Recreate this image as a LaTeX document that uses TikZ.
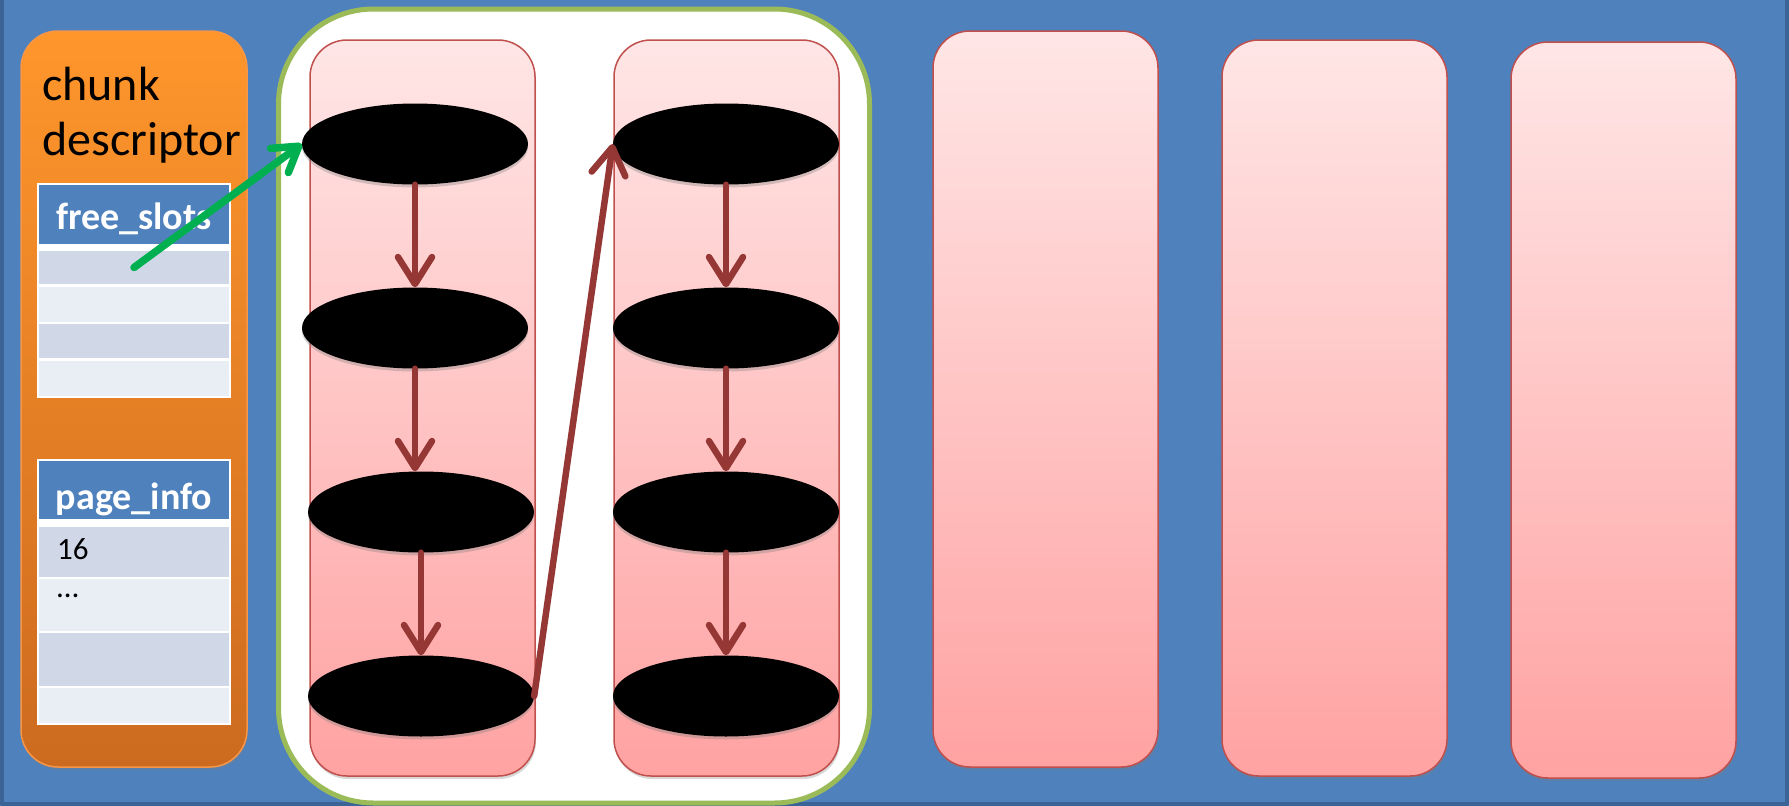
\documentclass[tikz,border=0pt]{standalone}
\usepackage{fontspec}
\setmainfont{Carlito}
\usetikzlibrary{arrows.meta,shapes.geometric,shadows}
\definecolor{bgblue}{HTML}{4F81BD}
\definecolor{bgedge}{HTML}{3A6496}
\definecolor{rowdark}{HTML}{D0D8E8}
\definecolor{rowlight}{HTML}{E9EDF4}
\definecolor{orgtop}{HTML}{FF962C}
\definecolor{orgbot}{HTML}{CC6A1F}
\definecolor{orgedge}{HTML}{F79646}
\definecolor{pinktop}{HTML}{FFE6E6}
\definecolor{pinkbot}{HTML}{FFA2A2}
\definecolor{pinkedge}{HTML}{C0504D}
\definecolor{poolgreen}{HTML}{9BBB59}
\definecolor{linkred}{HTML}{953735}
\definecolor{ptrgreen}{HTML}{00B050}

\begin{document}
\begin{tikzpicture}[x=1pt,y=-1pt, line join=round, line cap=round,
    pagebox/.style={rounded corners=37pt, draw=pinkedge, line width=1.5pt, top color=pinktop, bottom color=pinkbot,
      minimum width=225pt, minimum height=736pt, inner sep=0pt, drop shadow={shadow xshift=1pt,shadow yshift=-3pt,opacity=.3}},
    blob/.style={ellipse, fill=black, minimum width=226pt, minimum height=81pt, inner sep=0pt,
      drop shadow={shadow xshift=0pt,shadow yshift=-3pt,opacity=.35}},
    cell/.style={inner sep=0pt, minimum width=190pt},
    hd/.style={cell, fill=bgblue},
    rowa/.style={cell, fill=rowdark},
    rowb/.style={cell, fill=rowlight},
    tabframe/.style={fill=white, inner sep=0pt, minimum width=194pt},
    hdtext/.style={anchor=base, inner sep=0pt, text=white, font=\fontsize{38}{42}\selectfont\bfseries},
    celltext/.style={anchor=base west, inner sep=0pt, font=\fontsize{31}{35}\selectfont},
    link/.style={draw=linkred, line width=6.5pt, -{Straight Barb[length=27pt,width=34pt,round]}},
    ptr/.style={draw=ptrgreen, line width=7.5pt, -{Straight Barb[length=24pt,width=30pt,round]}}]
        \useasboundingbox (0,0) rectangle (1789,806);
        \fill[bgblue] (0,0) rectangle (1789,806);
        \draw[bgedge, line width=4pt] (2,0) -- (2,804) -- (1787,804) -- (1787,0);

        \node[rounded corners=37pt, draw=orgedge, line width=1.5pt, top color=orgtop, bottom color=orgbot,
          minimum width=226pt, minimum height=736pt, inner sep=0pt,
          drop shadow={shadow xshift=1pt,shadow yshift=-3pt,opacity=.3}] (chunk) at (134,399) {};
        \node[anchor=north west, align=left, inner sep=0pt, font=\fontsize{48}{55}\selectfont] (desc) at (42,67) {chunk\\descriptor};

        \node[tabframe, minimum height=215pt] (fsbox) at (134,290.5) {};
        \node[hd, minimum height=59pt] (fs0) at (134,214.5) {};
        \node[rowa, minimum height=33pt] (fs1) at (134,267.5) {};
        \node[rowb, minimum height=35pt] (fs2) at (134,304.5) {};
        \node[rowa, minimum height=34pt] (fs3) at (134,341) {};
        \node[rowb, minimum height=35pt] (fs4) at (134,378.5) {};
        \node[hdtext] (fstitle) at (134,229) {free\_slots};

        \node[tabframe, minimum height=266pt] (pibox) at (134,592) {};
        \node[hd, minimum height=58pt] (pi0) at (134,490) {};
        \node[rowa, minimum height=50pt] (pi1) at (134,552) {};
        \node[rowb, minimum height=52pt] (pi2) at (134,605) {};
        \node[rowa, minimum height=53pt] (pi3) at (134,659.5) {};
        \node[rowb, minimum height=35pt] (pi4) at (134,705.5) {};
        \node[hdtext] (pititle) at (134,509) {page\_info};
        \node[celltext] (pages) at (57,559) {16};
        \node[celltext] (more) at (57,597) {…};

        \node[rounded corners=95pt, draw=poolgreen, line width=5pt, fill=white,
          minimum width=591pt, minimum height=794pt, inner sep=0pt] (pool) at (574,406) {};

        \node[pagebox] (c1) at (422.5,408) {};
        \node[pagebox] (c2) at (726.5,408) {};
        \node[pagebox] (c3) at (1045.5,399) {};
        \node[pagebox] (c4) at (1334.5,408) {};
        \node[pagebox] (c5) at (1623.5,410) {};

        \node[blob] (c1e1) at (415,144) {};
        \node[blob] (c1e2) at (415,328) {};
        \node[blob] (c1e3) at (421,512) {};
        \node[blob] (c1e4) at (421,696) {};
        \node[blob] (c2e1) at (726,144) {};
        \node[blob] (c2e2) at (726,328) {};
        \node[blob] (c2e3) at (726,512) {};
        \node[blob] (c2e4) at (726,696) {};

        \draw[link] (c1e1) -- (c1e2);
        \draw[link] (c1e2) -- (c1e2 |- c1e3.north);
        \draw[link] (c1e3) -- (c1e4);
        \draw[link] (c2e1) -- (c2e2);
        \draw[link] (c2e2) -- (c2e3);
        \draw[link] (c2e3) -- (c2e4);
        \draw[link] (c1e4.east) -- (c2e1.west);
        \draw[ptr] (fs1.center) -- (c1e1.west);
\end{tikzpicture}
\end{document}
